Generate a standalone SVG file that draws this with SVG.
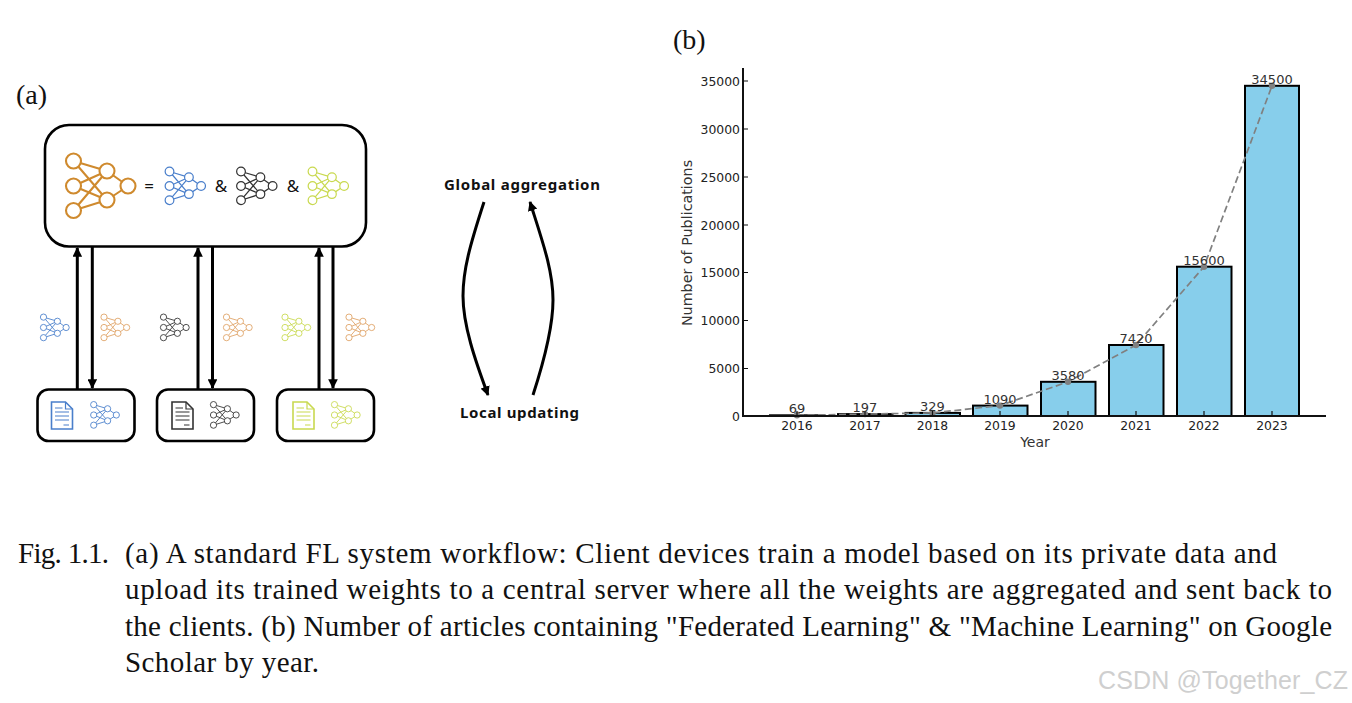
<svg xmlns="http://www.w3.org/2000/svg" xmlns:xlink="http://www.w3.org/1999/xlink" width="1352" height="703" viewBox="0 0 1352 703">
<style>
.box{fill:#fff;stroke:#000;stroke-width:2.6}
.blue{stroke:#4a7fcb}.orange{stroke:#cf8a2e}.orangeL{stroke:#dfa265}.black{stroke:#333}.lime{stroke:#c9d94f}
.conn{fill:none;stroke:#000;stroke-width:3}
.ui{font-family:"Noto Sans",sans-serif;font-weight:700;fill:#111;font-size:15px}
.sym{font-family:"Noto Sans",sans-serif;fill:#111;font-size:17px}
.cap{font-family:"Liberation Serif",serif;fill:#111;font-size:29px}
.plot{font-family:"DejaVu Sans",sans-serif;fill:#333;font-size:13px}
.tick{font-family:"DejaVu Sans",sans-serif;fill:#222;font-size:12.4px}
.bar{fill:#87ceeb;stroke:#000;stroke-width:2}
.ax{stroke:#111;stroke-width:2;fill:none}
</style>
<defs>
<g id="net" fill="none" stroke-width="2.1">
<path d="M0 -25L33.500 -15M0 -25L33.500 14M0 0L33.500 -15M0 0L33.500 14M0 24.500L33.500 -15M0 24.500L33.500 14M33.500 -15L54.500 0M33.500 14L54.500 0"/>
<g fill="#fff">
<circle cx="0" cy="-25" r="7.500"/><circle cx="0" cy="0" r="7.500"/><circle cx="0" cy="24.500" r="7.500"/>
<circle cx="33.500" cy="-15" r="7.500"/><circle cx="33.500" cy="14" r="7.500"/><circle cx="54.500" cy="0" r="7.500"/>
</g>
</g>
<g id="doc" fill="#fff" stroke-width="1.600">
<path d="M0 0H14L21 7V27H0Z"/>
<path d="M14 0V7H21M3.500 6H11M3.500 10H17.500M3.500 14H17.500M3.500 18H17.500M12 23H17.500" fill="none" stroke-width="1.200"/>
</g>
<marker id="ah" viewBox="0 0 10 10" refX="9" refY="5" markerWidth="3.200" markerHeight="3.200" orient="auto"><path d="M0 0L10 5L0 10Z" fill="#000"/></marker>
</defs>

<text class="cap" x="16" y="104" style="font-size:28px">(a)</text>
<text class="cap" x="673" y="49" style="font-size:28px">(b)</text>

<g id="server">
<rect class="box" x="45" y="125" width="321" height="121.500" rx="24"/>
<use xlink:href="#net" class="orange" transform="translate(73.500 186)"/>
<text class="sym" x="149" y="192" text-anchor="middle">=</text>
<use xlink:href="#net" class="blue" transform="translate(169.500 186) scale(.58)"/>
<text class="sym" x="221" y="192" text-anchor="middle">&amp;</text>
<use xlink:href="#net" class="black" transform="translate(241 186) scale(.58)"/>
<text class="sym" x="293" y="192" text-anchor="middle">&amp;</text>
<use xlink:href="#net" class="lime" transform="translate(312.500 186) scale(.58)"/>
</g>

<g id="connectors">
<path class="conn" d="M77.300 389V248" marker-end="url(#ah)"/>
<path class="conn" d="M92.300 247V388" marker-end="url(#ah)"/>
<path class="conn" d="M198 389V248" marker-end="url(#ah)"/>
<path class="conn" d="M212.500 247V388" marker-end="url(#ah)"/>
<path class="conn" d="M319 389V248" marker-end="url(#ah)"/>
<path class="conn" d="M333 247V388" marker-end="url(#ah)"/>
<path class="conn" d="M484 202C470 245 463 270 463 296C463 325 475 360 488 395" marker-end="url(#ah)"/>
<path class="conn" d="M533 395C546 355 553 325 553 300C553 270 542 240 530 202" marker-end="url(#ah)"/>
</g>

<g id="msg-1"><use xlink:href="#net" class="blue" transform="translate(43.500 327.500) scale(.415)"/></g>
<g id="msg-2"><use xlink:href="#net" class="orangeL" transform="translate(104 327.500) scale(.415)"/></g>
<g id="msg-3"><use xlink:href="#net" class="black" transform="translate(163.500 327.500) scale(.415)"/></g>
<g id="msg-4"><use xlink:href="#net" class="orangeL" transform="translate(226.500 327.500) scale(.415)"/></g>
<g id="msg-5"><use xlink:href="#net" class="lime" transform="translate(285 327.500) scale(.415)"/></g>
<g id="msg-6"><use xlink:href="#net" class="orangeL" transform="translate(349 327.500) scale(.415)"/></g>

<g id="client-1">
<rect class="box" x="37.500" y="389.500" width="97" height="51.500" rx="11"/>
<use xlink:href="#doc" class="blue" transform="translate(51.500 402)"/>
<use xlink:href="#net" class="blue" transform="translate(93.700 415) scale(.415)"/>
</g>
<g id="client-2">
<rect class="box" x="157" y="389.500" width="97" height="51.500" rx="11"/>
<use xlink:href="#doc" class="black" transform="translate(172 402)"/>
<use xlink:href="#net" class="black" transform="translate(213.500 415) scale(.415)"/>
</g>
<g id="client-3">
<rect class="box" x="277" y="389.500" width="97" height="51.500" rx="11"/>
<use xlink:href="#doc" class="lime" transform="translate(293 402)"/>
<use xlink:href="#net" class="lime" transform="translate(334.500 415) scale(.415)"/>
</g>

<text class="ui" x="444" y="190" textLength="156">Global aggregation</text>
<text class="ui" x="460" y="418" textLength="119">Local updating</text>

<g id="chart">
<g>
<rect class="bar" x="770" y="415.300" width="54.500" height="0.700"/>
<rect class="bar" x="838" y="414.100" width="54.500" height="1.900"/>
<rect class="bar" x="905.500" y="412.900" width="54.500" height="3.100"/>
<rect class="bar" x="973" y="405.600" width="54.500" height="10.400"/>
<rect class="bar" x="1041" y="381.800" width="54.500" height="34.200"/>
<rect class="bar" x="1109" y="345" width="54.500" height="71"/>
<rect class="bar" x="1177" y="266.700" width="54.500" height="149.300"/>
<rect class="bar" x="1245" y="85.800" width="54" height="330.200"/>
</g>
<path d="M797 415.300L865 414.100L932.500 412.900L1000 405.600L1068 381.800L1136 345L1204 266.700L1272 85.800" fill="none" stroke="#808080" stroke-width="1.700" stroke-dasharray="7 3.500"/>
<g fill="#808080">
<circle cx="797" cy="415.300" r="3.200"/><circle cx="865" cy="414.100" r="3.200"/><circle cx="932.500" cy="412.900" r="3.200"/><circle cx="1000" cy="405.600" r="3.200"/><circle cx="1068" cy="381.800" r="3.200"/><circle cx="1136" cy="345" r="3.200"/><circle cx="1204" cy="266.700" r="3.200"/><circle cx="1272" cy="85.800" r="3.200"/>
</g>
<path class="ax" d="M743 68V416H1326"/>
<path class="ax" style="stroke-width:1.200" d="M743 81H748M743 129H748M743 177H748M743 225H748M743 272.500H748M743 320.500H748M743 368.500H748M797 416V411M865 416V411M932.500 416V411M1000 416V411M1068 416V411M1136 416V411M1204 416V411M1272 416V411"/>
<g class="tick" text-anchor="end">
<text x="740" y="86">35000</text><text x="740" y="134">30000</text><text x="740" y="182">25000</text><text x="740" y="230">20000</text><text x="740" y="277">15000</text><text x="740" y="325">10000</text><text x="740" y="373">5000</text><text x="740" y="421">0</text>
</g>
<g class="tick" text-anchor="middle">
<text x="797" y="430">2016</text><text x="865" y="430">2017</text><text x="932.500" y="430">2018</text><text x="1000" y="430">2019</text><text x="1068" y="430">2020</text><text x="1136" y="430">2021</text><text x="1204" y="430">2022</text><text x="1272" y="430">2023</text>
</g>
<g class="plot" text-anchor="middle">
<text x="797" y="413">69</text><text x="865" y="412">197</text><text x="932.500" y="411">329</text><text x="1000" y="403.500">1090</text><text x="1068" y="379.500">3580</text><text x="1136" y="343">7420</text><text x="1204" y="264.500">15600</text><text x="1272" y="83.500">34500</text>
</g>
<text class="plot" x="1035" y="447" text-anchor="middle" style="font-size:14px">Year</text>
<text class="plot" transform="translate(692 243) rotate(-90)" text-anchor="middle" style="font-size:14.300px">Number of Publications</text>
</g>

<g id="caption">
<text class="cap" x="18" y="563" textLength="91">Fig. 1.1.</text>
<text class="cap" x="125" y="563" textLength="1152">(a) A standard FL system workflow: Client devices train a model based on its private data and</text>
<text class="cap" x="125" y="599" textLength="1207">upload its trained weights to a central server where all the weights are aggregated and sent back to</text>
<text class="cap" x="125" y="636" textLength="1207">the clients. (b) Number of articles containing "Federated Learning" &amp; "Machine Learning" on Google</text>
<text class="cap" x="125" y="672" textLength="194">Scholar by year.</text>
</g>
<text x="1348" y="689" text-anchor="end" font-family="Liberation Sans, sans-serif" font-size="25" fill="#cfcfcf" textLength="250">CSDN @Together_CZ</text>
</svg>
